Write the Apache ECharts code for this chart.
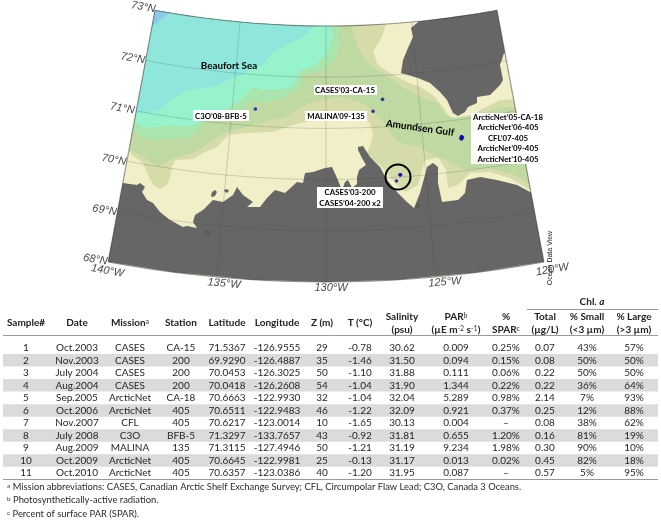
<!DOCTYPE html>
<html><head><meta charset="utf-8"><style>html,body{margin:0;padding:0;background:#fff}#c{width:661px;height:524px}</style>
<script src="https://cdn.jsdelivr.net/npm/echarts@6/dist/echarts.min.js"></script></head>
<body><div id="c"></div><script>
// ---- table data ----
const samples=['1','2','3','4','5','6','7','8','9','10','11'];
const dates=['Oct.2003','Nov.2003','July 2004','Aug.2004','Sep.2005','Oct.2006','Nov.2007','July 2008','Aug.2009','Oct.2009','Oct.2010'];
const missions=['CASES','CASES','CASES','CASES','ArcticNet','ArcticNet','CFL','C3O','MALINA','ArcticNet','ArcticNet'];
const stations=['CA-15','200','200','200','CA-18','405','405','BFB-5','135','405','405'];
const latitudes=[71.5367,69.9290,70.0453,70.0418,70.6663,70.6511,70.6217,71.3297,71.3115,70.6645,70.6357];
const longitudes=[-126.9555,-126.4887,-126.3025,-126.2608,-122.9930,-122.9483,-123.0014,-133.7657,-127.4946,-122.9981,-123.0386];
const depths=[29,35,50,54,32,46,10,43,50,25,40];
const temps=['-0.78','-1.46','-1.10','-1.04','-1.04','-1.22','-1.65','-0.92','-1.21','-0.13','-1.20'];
const salinity=['30.62','31.50','31.88','31.90','32.04','32.09','30.13','31.81','31.19','31.17','31.95'];
const par=['0.009','0.094','0.111','1.344','5.289','0.921','0.004','0.655','9.234','0.013','0.087'];
const spar=['0.25%','0.15%','0.06%','0.22%','0.98%','0.37%','–','1.20%','1.98%','0.02%','–'];
const chlTotal=['0.07','0.08','0.22','0.22','2.14','0.25','0.08','0.16','0.30','0.45','0.57'];
const pctSmall=['43%','50%','50%','36%','7%','12%','38%','81%','90%','82%','5%'];
const pctLarge=['57%','50%','50%','64%','93%','88%','62%','19%','10%','18%','95%'];
const lonTicks=[-140,-135,-130,-125,-120];
const latTicks=[68,69,70,71,72,73];

// ---- map: conic projection fitted to the plate's graticule ----
const AX=326,AY=-907,R68=1189,PER_DEG=51.2,K=0.018431;
const project=c=>{const r=R68-PER_DEG*(c[1]-68),a=(c[0]+130)*K;return [AX+r*Math.sin(a),AY+r*Math.cos(a)];};
const unproject=p=>{const dx=p[0]-AX,dy=p[1]-AY;return [-130+Math.atan2(dx,dy)/K,68+(R68-Math.hypot(dx,dy))/PER_DEG];};
const toLonLat=p=>{const q=unproject(p);return [Math.max(-140,Math.min(-120,q[0])),Math.max(68,Math.min(73,q[1]))];};
const TOP=[[150,5],[200,5],[250,10],[300,15]];
const outlineKhaki=[...TOP,[340,15],[385,15],[385,24],[382,37],[373,52],[378,65],[392,74],[407,82],[420,87],[433,95],[443,107],[448,115],[458,120],[470,118],[480,110],[500,100],[516,99],[532,190],[510,178],[490,172],[470,173],[458,185],[448,188],[446,170],[440,160],[437,158],[425,160],[422,170],[418,185],[405,192],[397,185],[380,165],[366,155],[370,146],[373,135],[370,123],[363,118],[327,118],[300,123],[272,132],[247,133],[228,135],[217,147],[203,153],[193,159],[175,160],[172,167],[170,177],[167,185],[160,189],[153,185],[147,173],[143,163],[132,155],[126,150]];
const outlineOlive=[...TOP,[340,15],[352,15],[352,23],[353,33],[358,48],[367,63],[383,73],[402,87],[420,97],[437,103],[445,115],[453,118],[483,113],[505,107],[517,107],[531,184],[512,174],[487,168],[465,170],[447,160],[433,155],[420,147],[400,143],[392,135],[383,122],[372,110],[360,102],[340,97],[320,100],[300,107],[287,117],[270,120],[243,128],[227,132],[215,138],[203,147],[193,153],[173,158],[158,167],[143,157],[130,150],[127,145]];
const outlineGreen=[...TOP,[338,18],[338,27],[340,43],[335,58],[323,70],[303,75],[300,88],[283,98],[267,103],[250,100],[240,113],[223,117],[203,123],[200,130],[187,138],[150,140],[133,132],[129,132]];
const outlineMint=[...TOP,[330,18],[330,25],[333,37],[327,53],[313,67],[300,70],[292,87],[277,90],[263,90],[253,87],[243,98],[230,107],[220,112],[203,120],[190,127],[170,125],[147,128],[135,123],[132,122]];
const outlineCyan=[...TOP,[314,15],[313,23],[303,37],[290,43],[273,52],[263,65],[252,67],[243,75],[233,78],[213,87],[187,90],[170,100],[160,110],[147,113],[134,113]];
const outlineBlue=[[150,5],[170,10],[163,18],[154,25],[150,25]];
const outlineMainland=[[118,182],[123,182],[137,185],[140,183],[145,187],[142,192],[147,200],[153,203],[160,212],[170,220],[183,227],[187,226],[197,228],[193,222],[195,215],[203,210],[213,200],[223,202],[233,195],[237,187],[243,195],[253,202],[247,207],[260,207],[267,198],[275,190],[285,193],[297,182],[303,183],[305,173],[313,172],[325,168],[332,167],[337,178],[342,190],[345,182],[348,180],[352,188],[357,184],[357,177],[359,170],[366,165],[362,158],[358,150],[358,147],[363,146],[370,157],[380,167],[387,180],[397,192],[407,202],[414,208],[420,193],[425,175],[427,167],[433,163],[438,167],[438,183],[442,202],[458,200],[465,193],[467,180],[480,177],[497,180],[517,185],[533,192],[560,290],[480,310],[400,320],[326,320],[250,320],[170,310],[90,290]];
const outlineBanks=[[419,0],[470,-5],[540,-30],[506,53],[504,53],[500,65],[503,80],[500,85],[490,95],[477,97],[477,103],[468,107],[465,112],[458,116],[453,113],[447,100],[440,92],[430,83],[418,78],[408,75],[401,73],[403,60],[408,48],[413,37],[411,28],[419,20]];
const outlineIsle1=[[211,196],[212,192],[215,190],[217,192],[215,196],[212,197]];
const outlineIsle2=[[224,190],[227,189],[229,191],[227,193],[225,192]];

const frameRing=[];
for(let lon=-140;lon<=-120;lon++)frameRing.push([lon,73]);
for(let lon=-120;lon>=-140;lon--)frameRing.push([lon,68]);
frameRing.push([-140,73]);

const layers=[
 ['Frame',null,'#f0efc7'],['Khaki',outlineKhaki,'#d6dca9'],['Olive',outlineOlive,'#bfd9a3'],
 ['Green',outlineGreen,'#a9e6ae'],['Mint',outlineMint,'#97f3cb'],['Cyan',outlineCyan,'#8fe7dc'],
 ['Blue',outlineBlue,'#8cc9ea'],['Mainland',outlineMainland,'#666666'],['Banks',outlineBanks,'#666666'],
 ['Isle1',outlineIsle1,'#666666'],['Isle2',outlineIsle2,'#666666']];
const feature=(name,ring)=>{const r=ring.slice();if(r[0][0]!==r[r.length-1][0]||r[0][1]!==r[r.length-1][1])r.push(r[0]);
 return {type:'Feature',properties:{name},geometry:{type:'Polygon',coordinates:[r]}};};
echarts.registerMap('arctic',{type:'FeatureCollection',features:layers.map(l=>feature(l[0],l[1]?l[1].map(toLonLat):frameRing))});

const pL=project([-140,68]),pR=project([-120,68]),pT=project([-140,73]),pB=project([-130,68]);

// ---- graticule ----
const gratLines=[];
latTicks.forEach(lat=>{const c=[];for(let lon=-140;lon<=-120;lon++)c.push([lon,lat]);gratLines.push({coords:c,edge:lat===68||lat===73});});
lonTicks.forEach(lon=>{gratLines.push({coords:[[lon,68],[lon,73]],edge:lon===-140||lon===-120});});
const tickData=[
 ...[[73,-12,-1],[72,-13,0],[71,-14,0],[70,-13,1],[69,-13,1],[68,-13,0]].map(t=>({value:[-140,t[0]],name:t[0]+'°N',off:[t[1],t[2]],rot:-10})),
 ...[[-140,1,9,-10],[-135,8,6,-5],[-130,5,6,0],[-125,9,6,5],[-120,7,9,10]].map(t=>({value:[t[0],68],name:Math.abs(t[0])+'°W',off:[t[1],t[2]],rot:t[3]}))];

// ---- table layout ----
const FONT='Lato, "Noto Sans", sans-serif';
const colX=[26,77,130,181,227,277,322,360,402,456,506,545,587,634];
const columns=[samples,dates,missions,stations,latitudes.map(v=>v.toFixed(4)),longitudes.map(v=>v.toFixed(4)),depths.map(String),temps,salinity,par,spar,chlTotal,pctSmall,pctLarge];
const cellData=[],cellText=[];
columns.forEach((col,c)=>col.forEach((t,r)=>{cellData.push([colX[c],r]);cellText.push(t);}));
const stripeRows=samples.map((s,i)=>i).filter(i=>i%2===1);

const tx=(x,y,text,o={})=>({type:'text',x,y,z:o.z||20,rotation:o.rot||0,style:Object.assign({text,align:o.align||'center',verticalAlign:'middle',font:(o.weight||'normal')+' '+(o.size||10)+'px '+FONT,fill:o.fill||'#1f1f1f'},o.style||{})});
const sup=(size)=>({s:{font:'normal '+size+'px '+FONT,fill:'#333',verticalAlign:'top',padding:[0,0,3,0]},b:{font:'bold 10px '+FONT,fill:'#222'},n:{font:'normal 9.4px '+FONT,fill:'#2a2a2a'},i:{font:'italic bold 10px '+FONT,fill:'#222'}});
const box=(x,y,w,h)=>({type:'rect',z:15,shape:{x,y,width:w,height:h},style:{fill:'#fff'}});
const rule=(x1,x2,y)=>({type:'line',z:20,shape:{x1,y1:y,x2,y2:y},style:{stroke:'#9a9a9a',lineWidth:1}});
const hdr=(x,y,t)=>tx(x,y,t,{weight:'bold',fill:'#222'});
const hdrRich=(x,y,t)=>({type:'text',x,y,z:20,style:{text:t,align:'center',verticalAlign:'middle',rich:sup(7)}});
const foot=(y,m,t)=>({type:'text',x:7,y,z:20,style:{text:'{s|'+m+'}{n|'+t+'}',align:'left',verticalAlign:'middle',rich:sup(6.5)}});
const lab=(x,y,t)=>tx(x,y,t,{weight:'bold',fill:'#000',size:7.8});

const graphics=[
 box(193,110,56,11),box(314,85,63,10),box(305,111,62,10),box(471,113,74,51),box(317,187,66,21),
 lab(221,116,"C3O’08-BFB-5"),lab(345,90,"CASES’03-CA-15"),lab(336,116,"MALINA’09-135"),
 tx(229,66,'Beaufort Sea',{weight:'bold',fill:'#000',size:9.8}),
 tx(420,128,'Amundsen Gulf',{weight:'bold',fill:'#000',size:10,rot:-8*Math.PI/180}),
 lab(508,117,'ArcticNet’05-CA-18'),lab(508,127,'ArcticNet’06-405'),lab(508,138,'CFL’07-405'),lab(508,148,'ArcticNet’09-405'),lab(508,159,'ArcticNet’10-405'),
 lab(350,192,'CASES’03-200'),lab(350,203,'CASES’04-200 x2'),
 {type:'circle',z:16,shape:{cx:398,cy:177,r:12.5},style:{fill:null,stroke:'#000',lineWidth:2}},
 {type:'circle',z:16,shape:{cx:207,cy:233,r:2},style:{fill:null,stroke:'#4a4a4a',lineWidth:0.7}},
 {type:'circle',z:16,shape:{cx:418,cy:206,r:1.6},style:{fill:null,stroke:'#4a4a4a',lineWidth:0.7}},
 {type:'text',x:550,y:258,z:20,rotation:Math.PI/2,style:{text:'Ocean Data View',align:'center',verticalAlign:'middle',font:'normal 7px "Liberation Sans"',fill:'#222'}},
 rule(527,658,309.5),rule(3,658,335.5),rule(3,658,479.5),
 hdrRich(592,302,'{b|Chl. }{i|a}'),
 hdr(26,323,'Sample#'),hdr(77,323,'Date'),hdrRich(130,323,'{b|Mission}{s|a}'),hdr(181,323,'Station'),hdr(227,323,'Latitude'),hdr(277,323,'Longitude'),hdr(322,323,'Z (m)'),hdr(360,323,'T (°C)'),
 hdr(402,317,'Salinity'),hdr(402,330,'(psu)'),
 hdrRich(456,317,'{b|PAR}{s|b}'),hdrRich(456,330,'{b|(µE m}{s|-2}{b| s}{s|-1}{b|)}'),
 hdr(506,317,'%'),hdrRich(506,330,'{b|SPAR}{s|c}'),
 hdr(545,317,'Total'),hdr(545,330,'(µg/L)'),hdr(587,317,'% Small'),hdr(587,330,'(<3 µm)'),hdr(634,317,'% Large'),hdr(634,330,'(>3 µm)'),
 foot(487,'a',' Mission abbreviations: CASES, Canadian Arctic Shelf Exchange Survey; CFL, Circumpolar Flaw Lead; C3O, Canada 3 Oceans.'),
 foot(500,'b',' Photosynthetically-active radiation.'),
 foot(514,'c',' Percent of surface PAR (SPAR).')
];

const chart=echarts.init(document.getElementById('c'),null,{renderer:'canvas'});
chart.setOption({
 animation:false,backgroundColor:'#fff',
 geo:{map:'arctic',projection:{project,unproject},roam:false,silent:true,
  left:pL[0],top:pT[1],width:pR[0]-pL[0],height:pB[1]-pT[1],
  label:{show:false},emphasis:{disabled:true},select:{disabled:true},
  itemStyle:{borderWidth:0,borderColor:'transparent'},
  regions:layers.map(l=>({name:l[0],itemStyle:{areaColor:l[2],borderWidth:0}}))},
 grid:{left:0,right:0,top:341.5,height:137.8},
 xAxis:{type:'value',min:0,max:661,show:false},
 yAxis:{type:'value',min:-0.5,max:10.5,inverse:true,show:false},
 series:[
  {type:'lines',coordinateSystem:'geo',polyline:true,silent:true,z:3,data:gratLines.map(g=>({coords:g.coords,lineStyle:{color:g.edge?'#2e2e2e':'rgba(70,70,70,0.55)',width:g.edge?1.1:0.8}}))},
  {type:'scatter',coordinateSystem:'geo',silent:true,z:5,symbolSize:3.6,itemStyle:{color:'#0808b0'},data:latitudes.map((lat,i)=>[longitudes[i],lat])},
  {type:'scatter',coordinateSystem:'geo',silent:true,z:6,symbolSize:0,data:tickData.map(t=>({value:t.value,name:t.name,label:{show:true,position:'inside',formatter:t.name,offset:t.off,rotate:t.rot,fontStyle:'italic',fontSize:11,fontFamily:'"Liberation Sans"',color:'#111'}}))},
  {type:'custom',coordinateSystem:'cartesian2d',silent:true,z:1,data:stripeRows.map(r=>[0,r]),encode:{x:0,y:1},
   renderItem:(p,api)=>{const a=api.coord([3,api.value(1)-0.5]),b=api.coord([658,api.value(1)+0.5]);return {type:'rect',shape:{x:a[0],y:a[1],width:b[0]-a[0],height:b[1]-a[1]},style:{fill:'#dbdbdb'}};}},
  {type:'custom',coordinateSystem:'cartesian2d',silent:true,z:2,data:cellData,encode:{x:0,y:1},
   renderItem:(p,api)=>{const a=api.coord([api.value(0),api.value(1)]);return {type:'text',x:a[0],y:a[1],style:{text:cellText[p.dataIndex],align:'center',verticalAlign:'middle',font:'normal 10px '+FONT,fill:'#262626'}};}}
 ],
 graphic:graphics
});
</script></body></html>
